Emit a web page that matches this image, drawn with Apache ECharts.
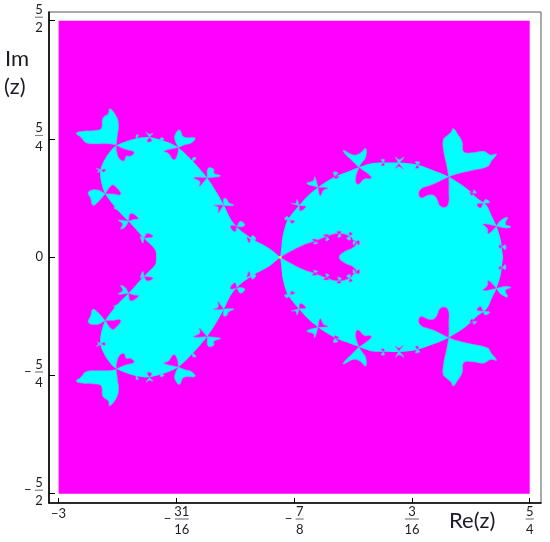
<!DOCTYPE html>
<html><head><meta charset="utf-8">
<style>html,body{margin:0;padding:0;background:#fff}#c{width:550px;height:542px}</style>
<script src="https://cdn.jsdelivr.net/npm/echarts@6/dist/echarts.min.js"></script>
</head><body><div id="c"></div>
<script>
const xTickValues=[-3,-1.9375,-.875,.1875,1.25];
const xTickLabels=['-3','-31/16','-7/8','3/16','5/4'];
const yTickValues=[-2.5,-1.25,0,1.25,2.5];
const yTickLabels=['-5/2','-5/4','0','5/4','5/2'];
const domain=[[-3,2.5],[1.25,2.5],[1.25,-2.5],[-3,-2.5]];
const fixedPoint=[[-1,0]];
const leftBody=[[-1,0],[-1.08,.08],[-1.15,.13],[-1.23,.18],[-1.32,.25],[-1.39,.32],[-1.45,.41],[-1.5,.53],[-1.57,.68],[-1.66,.84],[-1.77,.99],[-1.92,1.16],[-2.05,1.23],[-2.19,1.27],[-2.32,1.25],[-2.48,1.18],[-2.56,1.08],[-2.62,.94],[-2.62,.82],[-2.58,.67],[-2.47,.5],[-2.37,.38],[-2.23,.2],[-2.13,.08],[-2.12,0],[-2.13,-.08],[-2.23,-.2],[-2.37,-.38],[-2.47,-.5],[-2.58,-.67],[-2.62,-.82],[-2.62,-.94],[-2.56,-1.08],[-2.48,-1.18],[-2.32,-1.25],[-2.19,-1.27],[-2.05,-1.23],[-1.92,-1.16],[-1.77,-.99],[-1.66,-.84],[-1.57,-.68],[-1.5,-.53],[-1.45,-.41],[-1.39,-.32],[-1.32,-.25],[-1.23,-.18],[-1.15,-.13],[-1.08,-.08]];
const rightBody=[[-1,0],[-.99,.11],[-.98,.22],[-.94,.38],[-.88,.48],[-.83,.55],[-.76,.64],[-.66,.74],[-.51,.85],[-.4,.9],[-.29,.95],[-.19,.99],[-.07,1],[.08,1],[.23,.98],[.38,.92],[.52,.85],[.68,.73],[.78,.62],[.86,.55],[.91,.43],[.95,.33],[.99,.18],[1,.08],[1.01,0],[1,-.08],[.99,-.18],[.95,-.33],[.91,-.43],[.86,-.55],[.78,-.62],[.68,-.73],[.52,-.85],[.38,-.92],[.23,-.98],[.08,-1],[-.07,-1],[-.19,-.99],[-.29,-.95],[-.4,-.9],[-.51,-.85],[-.66,-.74],[-.76,-.64],[-.83,-.55],[-.88,-.48],[-.94,-.38],[-.98,-.22],[-.99,-.11]];
const innerHeart=[[-1,0],[-.91,.06],[-.79,.13],[-.69,.17],[-.58,.22],[-.48,.25],[-.37,.22],[-.34,.18],[-.31,.16],[-.34,.105],[-.42,.06],[-.47,0],[-.42,-.06],[-.34,-.105],[-.31,-.16],[-.34,-.18],[-.37,-.22],[-.48,-.25],[-.58,-.22],[-.69,-.17],[-.79,-.13],[-.91,-.06]];
const cyanUpper=[
[[-2.48,1.19],[-2.55,1.2],[-2.65,1.2],[-2.75,1.21],[-2.8,1.27],[-2.84,1.31],[-2.79,1.33],[-2.67,1.34],[-2.615,1.36],[-2.6,1.47],[-2.55,1.52],[-2.54,1.57],[-2.49,1.51],[-2.46,1.41],[-2.47,1.29]],
[[-1.92,1.16],[-1.95,1.24],[-1.95,1.29],[-1.91,1.345],[-1.87,1.27],[-1.77,1.26],[-1.8,1.21],[-1.86,1.19]],
[[-1.66,.84],[-1.65,.94],[-1.6,.93],[-1.6,.89],[-1.54,.86],[-1.6,.845]],
[[-1.51,.55],[-1.51,.62],[-1.48,.61],[-1.47,.58],[-1.42,.55],[-1.47,.545]],
[[-1.39,.33],[-1.36,.38],[-1.32,.34],[-1.36,.32]],
[[-1.27,.19],[-1.25,.23],[-1.22,.19]],
[[-2.18,1.27],[-2.21,1.32],[-2.18,1.3],[-2.15,1.31]],
[[-2.3,1.25],[-2.3,1.29],[-2.28,1.29]],
[[-2.08,1.22],[-2.08,1.26],[-2.05,1.25]],
[[-1.79,1.01],[-1.79,1.05],[-1.76,1.05]],
[[-2.615,.92],[-2.66,.94],[-2.64,.92],[-2.65,.895]],
[[-2.58,.67],[-2.65,.71],[-2.73,.69],[-2.71,.62],[-2.69,.55],[-2.64,.59]],
[[-2.37,.38],[-2.46,.39],[-2.42,.35],[-2.44,.3],[-2.4,.32]],
[[-2.23,.2],[-2.26,.22],[-2.24,.15]],
[[-2.47,.5],[-2.5,.52],[-2.48,.54]],
[[-.29,.95],[-.36,1.03],[-.42,1.1],[-.43,1.13],[-.34,1.08],[-.28,1.1],[-.23,1.15],[-.23,1.06],[-.27,.99]],
[[.52,.85],[.5,.98],[.475,1.115],[.47,1.24],[.5,1.28],[.54,1.32],[.56,1.36],[.6,1.3],[.64,1.22],[.655,1.115],[.74,1.105],[.83,1.12],[.9,1.08],[.95,1.09],[.9,1.01],[.87,.96],[.71,.915],[.59,.88]],
[[.95,.33],[.99,.39],[1.05,.42],[1.03,.35],[1.08,.32],[1.03,.31]],
[[.83,.57],[.85,.61],[.89,.58]],
[[.74,.68],[.745,.71],[.77,.68]],
[[-.66,.74],[-.76,.78],[-.7,.81],[-.69,.85]],
[[-.83,.545],[-.9,.57],[-.86,.57],[-.85,.61]],
[[-.91,.395],[-.96,.4],[-.94,.43]],
[[-.51,.86],[-.52,.9],[-.48,.89]],
[[-.07,1],[-.09,1.03],[-.06,1.03]],
[[.07,.99],[.04,1.06],[.07,1.03],[.115,1.056]],
[[.235,.975],[.22,1.01],[.26,1]],
[[1,.11],[1.03,.13],[1.03,.08]],
[[-.69,.16],[-.7,.14],[-.66,.15]],
[[-.58,.21],[-.59,.175],[-.56,.19]],
[[-.47,.245],[-.48,.21],[-.45,.225]],
[[-.37,.225],[-.4,.2],[-.37,.18]],
[[-.32,.16],[-.34,.17],[-.34,.13]]];
const cyanLower=[
[[-2.48,-1.19],[-2.55,-1.2],[-2.65,-1.2],[-2.75,-1.21],[-2.8,-1.27],[-2.84,-1.31],[-2.79,-1.33],[-2.67,-1.34],[-2.615,-1.36],[-2.6,-1.47],[-2.55,-1.52],[-2.54,-1.57],[-2.49,-1.51],[-2.46,-1.41],[-2.47,-1.29]],
[[-1.92,-1.16],[-1.95,-1.24],[-1.95,-1.29],[-1.91,-1.345],[-1.87,-1.27],[-1.77,-1.26],[-1.8,-1.21],[-1.86,-1.19]],
[[-1.66,-.84],[-1.65,-.94],[-1.6,-.93],[-1.6,-.89],[-1.54,-.86],[-1.6,-.845]],
[[-1.51,-.55],[-1.51,-.62],[-1.48,-.61],[-1.47,-.58],[-1.42,-.55],[-1.47,-.545]],
[[-1.39,-.33],[-1.36,-.38],[-1.32,-.34],[-1.36,-.32]],
[[-1.27,-.19],[-1.25,-.23],[-1.22,-.19]],
[[-2.18,-1.27],[-2.21,-1.32],[-2.18,-1.3],[-2.15,-1.31]],
[[-2.3,-1.25],[-2.3,-1.29],[-2.28,-1.29]],
[[-2.08,-1.22],[-2.08,-1.26],[-2.05,-1.25]],
[[-1.79,-1.01],[-1.79,-1.05],[-1.76,-1.05]],
[[-2.615,-.92],[-2.66,-.94],[-2.64,-.92],[-2.65,-.895]],
[[-2.58,-.67],[-2.65,-.71],[-2.73,-.69],[-2.71,-.62],[-2.69,-.55],[-2.64,-.59]],
[[-2.37,-.38],[-2.46,-.39],[-2.42,-.35],[-2.44,-.3],[-2.4,-.32]],
[[-2.23,-.2],[-2.26,-.22],[-2.24,-.15]],
[[-2.47,-.5],[-2.5,-.52],[-2.48,-.54]],
[[-.29,-.95],[-.36,-1.03],[-.42,-1.1],[-.43,-1.13],[-.34,-1.08],[-.28,-1.1],[-.23,-1.15],[-.23,-1.06],[-.27,-.99]],
[[.52,-.85],[.5,-.98],[.475,-1.115],[.47,-1.24],[.5,-1.28],[.54,-1.32],[.56,-1.36],[.6,-1.3],[.64,-1.22],[.655,-1.115],[.74,-1.105],[.83,-1.12],[.9,-1.08],[.95,-1.09],[.9,-1.01],[.87,-.96],[.71,-.915],[.59,-.88]],
[[.95,-.33],[.99,-.39],[1.05,-.42],[1.03,-.35],[1.08,-.32],[1.03,-.31]],
[[.83,-.57],[.85,-.61],[.89,-.58]],
[[.74,-.68],[.745,-.71],[.77,-.68]],
[[-.66,-.74],[-.76,-.78],[-.7,-.81],[-.69,-.85]],
[[-.83,-.545],[-.9,-.57],[-.86,-.57],[-.85,-.61]],
[[-.91,-.395],[-.96,-.4],[-.94,-.43]],
[[-.51,-.86],[-.52,-.9],[-.48,-.89]],
[[-.07,-1],[-.09,-1.03],[-.06,-1.03]],
[[.07,-.99],[.04,-1.06],[.07,-1.03],[.115,-1.056]],
[[.235,-.975],[.22,-1.01],[.26,-1]],
[[1,-.11],[1.03,-.13],[1.03,-.08]],
[[-.69,-.16],[-.7,-.14],[-.66,-.15]],
[[-.58,-.21],[-.59,-.175],[-.56,-.19]],
[[-.47,-.245],[-.48,-.21],[-.45,-.225]],
[[-.37,-.225],[-.4,-.2],[-.37,-.18]],
[[-.32,-.16],[-.34,-.17],[-.34,-.13]]];
const magentaUpper=[
[[-2.48,1.18],[-2.4,1.14],[-2.32,1.11],[-2.35,1.07],[-2.39,1.07],[-2.41,1.02],[-2.45,1.04],[-2.475,1.115]],
[[-1.92,1.16],[-2.05,1.12],[-2.01,1.1],[-1.96,1.03],[-1.93,1.08]],
[[-1.66,.84],[-1.78,.84],[-1.725,.8],[-1.73,.75],[-1.69,.8]],
[[-1.51,.55],[-1.6,.55],[-1.56,.53],[-1.56,.47],[-1.53,.52]],
[[-1.39,.33],[-1.45,.33],[-1.41,.27]],
[[-1.27,.19],[-1.3,.21],[-1.28,.15]],
[[-2.18,1.27],[-2.2,1.22],[-2.16,1.23]],
[[-2.615,.92],[-2.58,.93],[-2.59,.9]],
[[-2.58,.67],[-2.52,.76],[-2.49,.75],[-2.44,.665],[-2.52,.67]],
[[-2.37,.38],[-2.35,.46],[-2.28,.41],[-2.32,.4]],
[[-2.23,.2],[-2.2,.25],[-2.15,.22]],
[[-.29,.95],[-.18,.85],[-.19,.83],[-.24,.83],[-.3,.77],[-.32,.83]],
[[.52,.85],[.38,.77],[.26,.71],[.265,.63],[.35,.66],[.4,.64],[.45,.535],[.51,.55],[.52,.71]],
[[.95,.33],[.83,.35],[.87,.3],[.875,.25],[.92,.29]],
[[.83,.57],[.775,.56],[.805,.52]],
[[.74,.68],[.71,.69],[.73,.65]],
[[-.66,.74],[-.57,.73],[-.61,.71],[-.64,.65]],
[[-.83,.545],[-.77,.535],[-.82,.49]],
[[-.91,.395],[-.87,.38],[-.9,.36]],
[[-.51,.86],[-.51,.83],[-.47,.85]],
[[-.07,1],[-.09,.97],[-.06,.975]],
[[.07,.99],[.04,.94],[.07,.96],[.11,.93]],
[[.235,.975],[.22,.94],[.25,.95]],
[[1,.11],[.975,.13],[.98,.095]],
[[-.69,.16],[-.71,.19],[-.66,.18]],
[[-.58,.21],[-.61,.235],[-.56,.235]],
[[-.47,.245],[-.49,.27],[-.45,.27]],
[[-.37,.225],[-.38,.26],[-.35,.25]],
[[-.32,.16],[-.29,.175],[-.29,.13]]];
const magentaLower=[
[[-2.48,-1.18],[-2.4,-1.14],[-2.32,-1.11],[-2.35,-1.07],[-2.39,-1.07],[-2.41,-1.02],[-2.45,-1.04],[-2.475,-1.115]],
[[-1.92,-1.16],[-2.05,-1.12],[-2.01,-1.1],[-1.96,-1.03],[-1.93,-1.08]],
[[-1.66,-.84],[-1.78,-.84],[-1.725,-.8],[-1.73,-.75],[-1.69,-.8]],
[[-1.51,-.55],[-1.6,-.55],[-1.56,-.53],[-1.56,-.47],[-1.53,-.52]],
[[-1.39,-.33],[-1.45,-.33],[-1.41,-.27]],
[[-1.27,-.19],[-1.3,-.21],[-1.28,-.15]],
[[-2.18,-1.27],[-2.2,-1.22],[-2.16,-1.23]],
[[-2.615,-.92],[-2.58,-.93],[-2.59,-.9]],
[[-2.58,-.67],[-2.52,-.76],[-2.49,-.75],[-2.44,-.665],[-2.52,-.67]],
[[-2.37,-.38],[-2.35,-.46],[-2.28,-.41],[-2.32,-.4]],
[[-2.23,-.2],[-2.2,-.25],[-2.15,-.22]],
[[-.29,-.95],[-.18,-.85],[-.19,-.83],[-.24,-.83],[-.3,-.77],[-.32,-.83]],
[[.52,-.85],[.38,-.77],[.26,-.71],[.265,-.63],[.35,-.66],[.4,-.64],[.45,-.535],[.51,-.55],[.52,-.71]],
[[.95,-.33],[.83,-.35],[.87,-.3],[.875,-.25],[.92,-.29]],
[[.83,-.57],[.775,-.56],[.805,-.52]],
[[.74,-.68],[.71,-.69],[.73,-.65]],
[[-.66,-.74],[-.57,-.73],[-.61,-.71],[-.64,-.65]],
[[-.83,-.545],[-.77,-.535],[-.82,-.49]],
[[-.91,-.395],[-.87,-.38],[-.9,-.36]],
[[-.51,-.86],[-.51,-.83],[-.47,-.85]],
[[-.07,-1],[-.09,-.97],[-.06,-.975]],
[[.07,-.99],[.04,-.94],[.07,-.96],[.11,-.93]],
[[.235,-.975],[.22,-.94],[.25,-.95]],
[[1,-.11],[.975,-.13],[.98,-.095]],
[[-.69,-.16],[-.71,-.19],[-.66,-.18]],
[[-.58,-.21],[-.61,-.235],[-.56,-.235]],
[[-.47,-.245],[-.49,-.27],[-.45,-.27]],
[[-.37,-.225],[-.38,-.26],[-.35,-.25]],
[[-.32,-.16],[-.29,-.175],[-.29,-.13]]];

const FONT='Lato';
const INK='#1c1c28';
const rich={
 p:{fontFamily:FONT,fontSize:13,color:INK,lineHeight:15},
 s:{width:11,lineHeight:11},
 m:{fontFamily:FONT,fontSize:13,color:INK,width:11,lineHeight:4,align:'left'},
 n2:{fontFamily:FONT,fontSize:13,color:INK,width:14,align:'center',lineHeight:11},
 n1:{fontFamily:FONT,fontSize:13,color:INK,width:8,align:'center',lineHeight:11},
 d2:{fontFamily:FONT,fontSize:13,color:INK,width:14,align:'center',lineHeight:18},
 d1:{fontFamily:FONT,fontSize:13,color:INK,width:8,align:'center',lineHeight:18},
 b2:{width:14,height:0,borderWidth:.6,borderColor:'#666',lineHeight:4},
 b1:{width:8,height:0,borderWidth:.6,borderColor:'#666',lineHeight:4}
};
function fraction(text){
 const neg=text[0]==='-';
 const t=neg?text.slice(1):text;
 if(t.indexOf('/')<0) return '{p|'+text.replace('-','\u2212')+'}';
 const [a,b]=t.split('/');
 const w=Math.max(a.length,b.length)>1?'2':'1';
 const sp=neg?'{s|}':'';
 return sp+'{n'+w+'|'+a+'}\n'+(neg?'{m|\u2212}':'')+'{b'+w+'|}\n'+sp+'{d'+w+'|'+b+'}';
}
const lookup=(vals,labs,v)=>labs[vals.findIndex(x=>Math.abs(x-v)<1e-6)]||'';
// round the lobes; repeating the first vertex keeps the pinch point sharp
function polySeries(polys,color,stroke,smooth){
 return {type:'custom',coordinateSystem:'cartesian2d',silent:true,animation:false,
  data:polys.map(p=>p[0]),
  renderItem:(params,api)=>{
    const pts=polys[params.dataIndex].map(q=>api.coord(q));
    if(smooth) pts.push(pts[0].slice());
    return {type:'polygon',
     shape:{points:pts,smooth:smooth||0},
     style:{fill:color,stroke:stroke||color,lineWidth:stroke?.6:0}};
  }};
}
const chart=echarts.init(document.getElementById('c'),null,{renderer:'canvas'});
chart.setOption({
 animation:false,backgroundColor:'#fff',
 grid:{left:49,right:9,top:12,bottom:39,show:true,borderColor:'#555',borderWidth:1,backgroundColor:'transparent'},
 xAxis:{type:'value',min:-3.0865,max:1.3518,splitLine:{show:false},
  axisLine:{show:true,onZero:false,lineStyle:{color:'#000',width:1.6}},
  axisTick:{show:true,inside:true,length:5,customValues:xTickValues,lineStyle:{color:'#000',width:1}},
  axisLabel:{show:true,customValues:xTickValues,margin:3,verticalAlign:'top',
    formatter:v=>fraction(lookup(xTickValues,xTickLabels,v)),rich}},
 yAxis:{type:'value',min:-2.598,max:2.592,splitLine:{show:false},
  axisLine:{show:true,onZero:false,lineStyle:{color:'#000',width:1.6}},
  axisTick:{show:true,inside:true,length:6,customValues:yTickValues,lineStyle:{color:'#000',width:1}},
  axisLabel:{show:true,customValues:yTickValues,margin:6,align:'right',
    formatter:v=>fraction(lookup(yTickValues,yTickLabels,v)),rich}},
 graphic:[
  {type:'text',left:5,top:48,style:{text:'Im',font:'22px Lato',fill:INK}},
  {type:'text',left:4,top:76,style:{text:'(z)',font:'22px Lato',fill:INK}},
  {type:'text',left:449,top:510,style:{text:'Re(z)',font:'22px Lato',fill:INK}}
 ],
 series:[
  polySeries([domain],'#ff00ff'),
  polySeries([leftBody,rightBody],'#00ffff',null,.3),
  polySeries([innerHeart].concat(magentaUpper,magentaLower),'#ff00ff','#d060ff',.45),
  polySeries(cyanUpper.concat(cyanLower),'#00ffff','#6fb4ff',.45),
  {type:'scatter',data:fixedPoint,symbolSize:3,silent:true,itemStyle:{color:'#ffff00'}}
 ]
});
</script></body></html>
